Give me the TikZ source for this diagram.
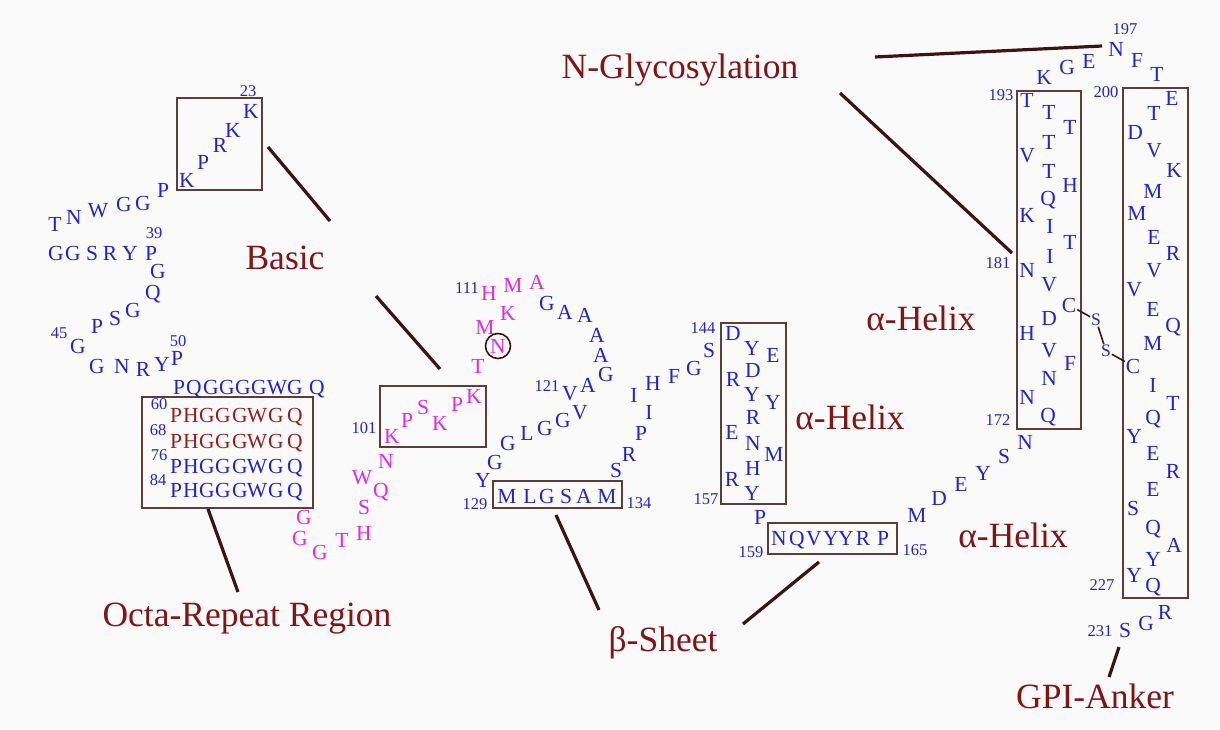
\documentclass[tikz,border=0pt]{standalone}
\usepackage{fontspec}
\setmainfont{Liberation Serif}
\definecolor{aablue}{RGB}{34,34,214}
\definecolor{aamag}{RGB}{228,40,228}
\definecolor{aared}{RGB}{150,30,30}
\definecolor{lblred}{RGB}{130,20,20}
\definecolor{linec}{RGB}{60,20,20}
\definecolor{boxc}{RGB}{95,60,60}
\definecolor{bgc}{RGB}{250,250,250}
\tikzset{
  aa/.style={font=\fontsize{21.5}{25}\selectfont, inner sep=0pt, text height=14.2pt, text depth=0pt},
  bl/.style={aa, text=aablue},
  mg/.style={aa, text=aamag},
  rd/.style={aa, text=aared},
  num/.style={font=\fontsize{16.5}{19}\selectfont, text=aablue, inner sep=0pt, text height=11.2pt, text depth=0pt},
  lbl/.style={font=\fontsize{35.5}{40}\selectfont, text=lblred, inner sep=0pt, text height=23.5pt, text depth=0pt},
  boxst/.style={draw=boxc, line width=2pt, inner sep=0pt},
  conn/.style={draw=linec, line width=3.2pt},
  ss/.style={draw=linec, line width=1.6pt},
}
\begin{document}
\begin{tikzpicture}[x=1pt,y=-1pt]
\path[fill=bgc] (0,0) rectangle (1220,729);
\useasboundingbox (0,0) rectangle (1220,729);

% boxes
\node[boxst, minimum width=85pt, minimum height=92pt] (bxA) at (219.5,144) {};
\node[boxst, minimum width=106pt, minimum height=61pt] (bxB) at (433,416.5) {};
\node[boxst, minimum width=171pt, minimum height=111pt] (bxC) at (227.5,452.5) {};
\node[boxst, minimum width=129pt, minimum height=27pt] (bxD) at (557.5,494.5) {};
\node[boxst, minimum width=65pt, minimum height=181pt] (bxE) at (753.5,413.5) {};
\node[boxst, minimum width=129pt, minimum height=31pt] (bxF) at (832.5,538.5) {};
\node[boxst, minimum width=64pt, minimum height=338pt] (bxG) at (1049,260) {};
\node[boxst, minimum width=65pt, minimum height=510pt] (bxH) at (1155.5,343) {};

% N-terminal region (blue)
\foreach \x/\y/\l [count=\i] in {251/111/K,233/130/K,220/145/R,203/162/P,187/180/K,163/190/P,143/203/G,124/204/G,98/210/W,74/217/N,55/224/T,
  56/253/G,73/253/G,92/253/S,110/253/R,130/253/Y,151/253/P,158/271/G,153/292/Q,133/310/G,115/318/S,97/326/P,78/346/G,
  97/366/G,122/366/N,143/369/R,162/364/Y,177/358/P,
  179/387/P,194/387/Q,211/387/G,227/387/G,243/387/G,259/387/G,277/387/W,295/387/G,317/387/Q}
  {\node[bl] (na\i) at (\x,\y) {\l};}

% octa repeats
\foreach \y [count=\j] in {415,441} {
  \foreach \x/\l [count=\i] in {176/P,191/H,207/G,223/G,240/G,257/W,276/G,295/Q}
    {\node[rd] (or\j-\i) at (\x,\y) {\l};}
}
\foreach \y [count=\j] in {466,490} {
  \foreach \x/\l [count=\i] in {176/P,191/H,207/G,223/G,240/G,257/W,276/G,295/Q}
    {\node[bl] (ob\j-\i) at (\x,\y) {\l};}
}

% magenta region
\foreach \x/\y/\l [count=\i] in {304/517/G,300/538/G,320/552/G,342/540/T,364/533/H,364/507/S,362/477/W,381/490/Q,386/461/N,
  392/436/K,407/420/P,423/407/S,440/423/K,457/404/P,474/396/K,
  478/366/T,485/327/M,508/313/K,489/293/H,513/285/M,537/282/A}
  {\node[mg] (mg\i) at (\x,\y) {\l};}
\node[mg] (nglyc1) at (498,346) {N};
\node[circle, draw=linec, line width=1.6pt, minimum size=25pt, inner sep=0pt] (ncirc) at (498,346) {};

% middle region (blue)
\foreach \x/\y/\l [count=\i] in {547/303/G,565/312/A,585/315/A,597/335/A,601/355/A,606/374/G,588/385/A,570/393/V,
  580/412/V,563/420/G,545/428/G,527/433/L,508/443/G,495/462/G,483/480/Y,
  507/496/M,530/496/L,547/496/G,566/496/S,584/496/A,607/496/M,
  616/470/S,629/454/R,641/433/P,649/412/I,634/395/I,653/383/H,674/376/F,694/368/G,709/350/S,
  733/333/D,752/348/Y,773/355/E,753/370/D,733/379/R,752/394/Y,773/402/Y,753/417/R,732/432/E,753/443/N,774/454/M,753/468/H,732/479/R,752/493/Y,
  760/517/P,779/538/N,797/538/Q,814/538/V,831/538/Y,846/538/Y,863/538/R,883/538/P,
  917/515/M,939/498/D,961/484/E,983/473/Y,1004/456/S,1025/442/N}
  {\node[bl] (md\i) at (\x,\y) {\l};}

% C-terminal helices (blue)
\foreach \x/\y/\l [count=\i] in {1048/415/Q,1027/397/N,1049/378/N,1070/363/F,1049/350/V,1027/333/H,1049/318/D,
  1049/284/V,1027/270/N,1050/256/I,1070/242/T,1050/226/I,1027/215/K,1048/198/Q,1070/185/H,1049/171/T,1027/155/V,1049/142/T,1070/127/T,1049/112/T,1027/100/T,
  1044/77/K,1067/67/G,1089/61/E,1116/49/N,1137/60/F,1157/74/T,
  1172/98/E,1154/113/T,1135/132/D,1154/150/V,1174/170/K,1153/191/M,1137/213/M,1154/237/E,1173/253/R,1154/270/V,1134/289/V,
  1153/309/E,1173/325/Q,1153/343/M,1153/385/I,1173/403/T,1153/417/Q,1134/436/Y,1153/453/E,1173/471/R,1153/489/E,
  1133/508/S,1153/527/Q,1174/545/A,1153/559/Y,1134/575/Y,1153/585/Q,1165/612/R,1146/623/G,1125/630/S}
  {\node[bl] (ct\i) at (\x,\y) {\l};}

% disulfide bridge
\node[bl] (cys1) at (1069,305) {C};
\node[bl] (cys2) at (1133,366) {C};
\node[num, font=\fontsize{17.5}{20}\selectfont] (sul1) at (1096,320) {S};
\node[num, font=\fontsize{17.5}{20}\selectfont] (sul2) at (1106,351) {S};
\draw[ss, shorten <=1pt, shorten >=1pt] (cys1) -- (sul1);
\draw[ss, shorten <=1pt, shorten >=1pt] (sul1) -- (sul2);
\draw[ss, shorten <=1pt, shorten >=1pt] (sul2) -- (cys2);

% residue numbers
\foreach \x/\y/\l [count=\i] in {248/91/23,154/233/39,59/333/45,178/341/50,159/404/60,158/430/68,159/455/76,158/480/84,
  364/428/101,467/288/111,547/386/121,475/504/129,639/503/134,703/328/144,706/499/157,751/552/159,915/550/165,
  998/420/172,998/263/181,1001/95/193,1125/29/197,1106/92/200,1102/585/227,1100/631/231}
  {\node[num] (nm\i) at (\x,\y) {\l};}

% labels
\node[lbl] (lbasic) at (285,258) {Basic};
\node[lbl] (locta) at (247,615) {Octa-Repeat Region};
\node[lbl] (lbeta) at (663,640) {β-Sheet};
\node[lbl] (lnglyc) at (680,67) {N-Glycosylation};
\node[lbl] (lhel1) at (921,319) {α-Helix};
\node[lbl] (lhel2) at (850,418) {α-Helix};
\node[lbl] (lhel3) at (1013,536) {α-Helix};
\node[lbl] (lgpi) at (1095,697) {GPI-Anker};

% connector ends
\coordinate (ba1) at (268,147); \coordinate (ba2) at (330,221);
\coordinate (bb1) at (376,296); \coordinate (bb2) at (440,369);
\coordinate (oc1) at (208,509); \coordinate (oc2) at (238,592);
\coordinate (be1) at (556,515); \coordinate (be2) at (599,610);
\coordinate (be3) at (819,562); \coordinate (be4) at (743,624);
\coordinate (ng1) at (875,57);  \coordinate (ng2) at (1102,46);
\coordinate (ng3) at (840,93);  \coordinate (ng4) at (1012,253);
\coordinate (gp1) at (1119,647); \coordinate (gp2) at (1109,677);

\draw[conn] (ba1) -- (ba2);
\draw[conn] (bb1) -- (bb2);
\draw[conn] (oc1) -- (oc2);
\draw[conn] (be1) -- (be2);
\draw[conn] (be3) -- (be4);
\draw[conn] (ng1) -- (ng2);
\draw[conn] (ng3) -- (ng4);
\draw[conn] (gp1) -- (gp2);
\end{tikzpicture}
\end{document}
